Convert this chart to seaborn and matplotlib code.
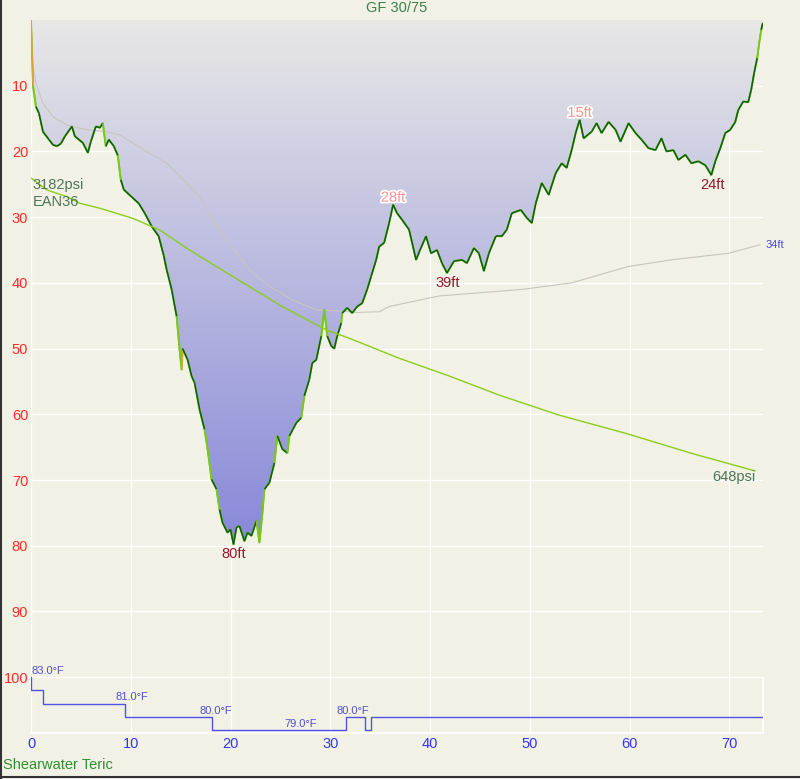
import numpy as np
import pandas as pd
import seaborn as sns
import matplotlib
matplotlib.use('Agg')
import matplotlib.pyplot as plt
from matplotlib.colors import LinearSegmentedColormap
from matplotlib.collections import LineCollection
from matplotlib.lines import Line2D
import matplotlib.patheffects as pe

# dive profile (minutes, feet)
time_min = [0, 0.1, 0.2, 0.5, 0.8, 1.2, 1.8, 2.2, 2.6, 3.0,
            3.4, 4.1, 4.4, 5.2, 5.7, 6.0, 6.5, 6.9, 7.2, 7.5,
            7.8, 8.3, 8.7, 9.0, 9.3, 10.0, 10.8, 11.4, 12.1, 12.8,
            13.3, 13.6, 14.1, 14.6, 14.9, 15.1, 15.2, 15.7, 16.1, 16.4,
            16.9, 17.4, 17.7, 18.1, 18.6, 18.9, 19.2, 19.7, 20.0, 20.3,
            20.6, 20.9, 21.4, 21.7, 22.1, 22.6, 22.9, 23.2, 23.4, 23.9,
            24.4, 24.7, 25.2, 25.7, 25.9, 26.6, 27.1, 27.4, 27.9, 28.2,
            28.6, 29.1, 29.4, 29.7, 30.1, 30.4, 30.7, 31.1, 31.2, 31.7,
            32.2, 32.7, 33.2, 33.7, 34.1, 34.6, 34.9, 35.4, 35.9, 36.3,
            36.7, 37.2, 37.9, 38.6, 39.0, 39.6, 40.1, 40.7, 41.2, 41.7,
            42.4, 43.2, 43.7, 44.4, 44.9, 45.4, 45.9, 46.6, 47.2, 47.7,
            48.2, 49.1, 49.7, 50.2, 50.6, 51.2, 51.9, 52.6, 53.2, 53.7,
            54.2, 54.6, 55.0, 55.4, 56.2, 56.7, 57.2, 57.9, 58.6, 59.1,
            59.9, 60.6, 61.2, 61.9, 62.6, 63.2, 63.7, 64.4, 64.9, 65.6,
            66.2, 66.9, 67.6, 68.2, 68.6, 69.1, 69.6, 70.1, 70.6, 70.9,
            71.4, 71.9, 72.2, 72.5, 72.8, 73.0, 73.2, 73.35]
depth_ft = [0, 5, 10, 13.2, 14.2, 17, 18.2, 19, 19.2, 18.8,
            17.7, 16.2, 17.7, 18.7, 20.2, 18.5, 16.2, 16.4, 15.7, 19.2,
            18.2, 19.2, 20.6, 24.3, 25.8, 26.8, 27.9, 29.4, 31.4, 32.9,
            35.8, 38, 41, 45.1, 50.2, 53.2, 50, 51.7, 54.2, 55.2,
            59.3, 62.3, 65.3, 69.9, 71.4, 74.5, 76.5, 78, 77.5, 79.8,
            77.2, 77, 79.3, 78, 78.5, 76.2, 79.5, 75, 71.4, 70.4,
            67.4, 63.3, 65.3, 65.9, 63.3, 61.3, 60.5, 57.2, 54.7, 52.2,
            51.7, 48.1, 44.1, 48.1, 49.6, 50, 48.1, 46.1, 44.6, 43.8,
            44.6, 43.6, 43.1, 41, 39, 36.5, 34.5, 33.9, 30.9, 28.1,
            29.4, 30.4, 31.9, 36.5, 35, 32.9, 35.5, 35, 37, 38.5,
            36.7, 36.5, 37, 34.7, 35.5, 38.2, 35.5, 32.9, 32.9, 31.9,
            29.4, 28.9, 30.1, 30.9, 27.9, 24.8, 26.6, 23.3, 21.8, 22.5,
            19.8, 17.2, 15.2, 18, 17, 15.7, 17.2, 15.5, 16.7, 18.5,
            15.7, 17.2, 18.2, 19.5, 19.8, 18, 20, 19.8, 21.3, 20.5,
            21.8, 21.5, 22.1, 23.6, 21.5, 19.5, 17.2, 16.7, 15.5, 13.7,
            12.4, 12.5, 10.6, 8, 5.8, 3.5, 1.5, 0.5]

# running mean depth
mean_time = [0, 0.2, 0.5, 1.2, 2.2, 3.6, 5.6, 7.6, 8.9, 10.2, 11.9, 13.6, 15.6, 16.9, 18.5, 20.4,
             21.9, 23.9, 26.2, 28.6, 31.2, 32.6, 34.9, 35.9, 40.9, 49.2, 54.2, 59.9, 64.2, 69.9, 73.1]
mean_depth = [0, 7.1, 9.6, 12.7, 14.7, 16, 16.7, 17, 17.5, 18.7, 20.3, 21.8, 24.8, 26.9, 31, 35,
              38, 40.5, 42.6, 44.1, 44.3, 44.5, 44.4, 43.6, 42, 41, 40, 37.5, 36.5, 35.5, 34.2]

# tank pressure (psi)
press_time = [0, 1.6, 3.6, 4.9, 6.9, 10.2, 12.9, 15.9, 18.6, 21.9, 25.2, 29.6, 31.9, 36.9, 41.9,
              46.9, 52.9, 59.6, 66.2, 72.6]
press_psi = [3182, 3078, 3020, 2963, 2920, 2833, 2732, 2559, 2415, 2242, 2069, 1868, 1796, 1623, 1470,
             1305, 1132, 974, 801, 648]

# water temperature (F)
temp_time = [0, 0.05, 1.2, 9.4, 18.1, 31.6, 33.45, 34.1, 73.38]
temp_f = [83, 82, 81, 80, 79, 80, 79, 80, 80]
temp_label_time = [0.1, 10.1, 18.5, 27.0, 32.3]
temp_label_f = [83, 81, 80, 79, 80]

# depth markers
mark_time = [20.3, 36.3, 41.8, 55.0, 68.3]
mark_depth = [79.8, 28.1, 38.5, 15.2, 23.6]
mark_text = ['80ft', '28ft', '39ft', '15ft', '24ft']
mark_is_max = [True, False, True, False, True]

bg = '#F2F1E6'
sns.set_theme(style='darkgrid', rc={'axes.facecolor': bg, 'figure.facecolor': bg,
                                    'grid.color': 'white', 'grid.linewidth': 1.0})
plt.rcParams['font.family'] = ['Liberation Sans', 'DejaVu Sans']

fig = plt.figure(figsize=(8, 7.79), dpi=100)
ax = fig.add_axes([31/800, 46/779, 732/800, 713/779])
xmax, ymax = 73.38, 108.5

prof = pd.DataFrame({'time': time_min, 'depth': depth_ft})

# gradient fill under the profile
poly = ax.fill_between(prof['time'], prof['depth'], 0, color='none', lw=0)
cmap = LinearSegmentedColormap.from_list('dive', ['#E8E8E7', '#8888D9'])
im = ax.imshow(np.linspace(0, 1, 256).reshape(-1, 1), cmap=cmap, aspect='auto',
               extent=(0, xmax, max(depth_ft), 0), origin='upper', zorder=1)
im.set_clip_path(poly.get_paths()[0], transform=ax.transData)

# mean depth
sns.lineplot(x=mean_time, y=mean_depth, ax=ax, color='#c9c5bd', lw=0.8, zorder=2)

# profile, coloured by vertical speed
sns.lineplot(data=prof, x='time', y='depth', ax=ax, color='#78c81e', lw=1.4, zorder=3, sort=False)
t = np.array(time_min)
d = np.array(depth_ft)
speed = np.abs(np.diff(d) / np.diff(t))
segs = np.stack([np.column_stack([t[:-1], d[:-1]]), np.column_stack([t[1:], d[1:]])], axis=1)
cols = np.where(speed > 30, '#e0a030', np.where(speed > 9, '#78c81e', '#0f5f12'))
ax.add_collection(LineCollection(segs, colors=cols, linewidths=1.15, zorder=4))

ax.set_xlim(0, xmax)
ax.set_ylim(ymax, 0)
ax.set_xticks(range(0, 71, 10))
ax.set_xticklabels([str(v) for v in range(0, 71, 10)], color='#3535f0', fontsize=10.5)
ax.set_yticks(range(0, 101, 10))
ax.set_yticklabels([''] + [str(v) for v in range(10, 101, 10)], color='#ff2b2b', fontsize=10.5)
ax.tick_params(axis='x', pad=3, length=0)
ax.tick_params(axis='y', pad=2, length=0)
ax.set_xlabel('')
ax.set_ylabel('')
for s in ax.spines.values():
    s.set_visible(False)

# temperature box outline
ax.axhline(ymax, color='white', lw=1.2, clip_on=False)
ax.axvline(xmax, ymin=0, ymax=(ymax - 100) / ymax, color='white', lw=1.2, clip_on=False)

# depth markers
for tm, dp, txt, is_max in zip(mark_time, mark_depth, mark_text, mark_is_max):
    if is_max:
        ax.annotate(txt, (tm, dp), xytext=(0, -2), textcoords='offset points', ha='center', va='top',
                    color='#8e1a2c', fontsize=10.5, zorder=6)
    else:
        ax.annotate(txt, (tm, dp), xytext=(0, 0), textcoords='offset points', ha='center', va='bottom',
                    color='#ff9090', fontsize=10.5, zorder=6,
                    path_effects=[pe.withStroke(linewidth=2.5, foreground='white')])

ax.annotate('%dft' % round(mean_depth[-1]), (xmax, mean_depth[-1]), xytext=(1.5, 0),
            textcoords='offset points', ha='left', va='center', color='#4b4bd0', fontsize=8,
            annotation_clip=False)

# pressure on its own scale
axp = ax.twinx()
sns.lineplot(x=press_time, y=press_psi, ax=axp, color='#8ccc1c', lw=1.0)
axp.set_ylim(-1618, 4548)
axp.set_yticks([])
axp.set_ylabel('')
axp.grid(False)
for s in axp.spines.values():
    s.set_visible(False)
axp.annotate('%dpsi' % press_psi[0], (press_time[0], press_psi[0]), xytext=(1, -5),
             textcoords='offset points', ha='left', va='center', color='#4c7655', fontsize=10.5)
axp.annotate('EAN36', (press_time[0], press_psi[0]), xytext=(1, -17),
             textcoords='offset points', ha='left', va='center', color='#4c7655', fontsize=10.5)
axp.annotate('%dpsi' % press_psi[-1], (press_time[-1], press_psi[-1]), xytext=(0, -4.5),
             textcoords='offset points', ha='right', va='center', color='#4c7655', fontsize=10.5)

# temperature on its own scale
axt = ax.twinx()
sns.lineplot(x=temp_time, y=temp_f, ax=axt, color='#5252e6', lw=1.0, drawstyle='steps-post')
axt.set_ylim(78.8, 132.3)
axt.set_yticks([])
axt.set_ylabel('')
axt.grid(False)
for s in axt.spines.values():
    s.set_visible(False)
for tm, tf in zip(temp_label_time, temp_label_f):
    axt.annotate('%.1f°F' % tf, (tm, tf), xytext=(0, 1), textcoords='offset points',
                 ha='left' if tm < 1 else 'center', va='bottom', color='#5050cc', fontsize=8)

fig.text(396.7/800, 1 - 7.5/779, 'GF 30/75', ha='center', va='center', color='#3f7f4f', fontsize=10.5)
fig.text(3/800, 1 - 765/779, 'Shearwater Teric', ha='left', va='center', color='#2f8f2f', fontsize=10.5)

# window frame edges
fig.add_artist(Line2D([0.001, 0.001], [0, 1], transform=fig.transFigure, color='#333333', lw=1.5))
fig.add_artist(Line2D([0, 1], [0.002, 0.002], transform=fig.transFigure, color='#333333', lw=1.5))

fig.savefig('out.png', dpi=100, facecolor=bg)
